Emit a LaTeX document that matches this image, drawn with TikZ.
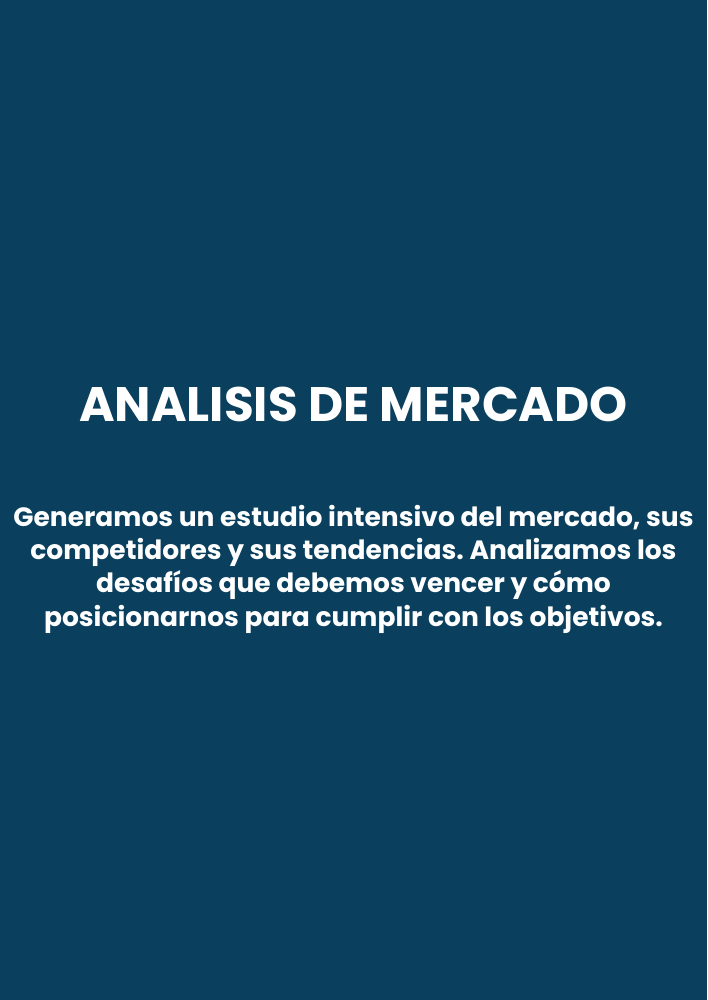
\documentclass[tikz,border=0pt]{standalone}
\usepackage{fontspec}
\setmainfont{Poppins}
\definecolor{bgblue}{HTML}{0A405E}
\tikzset{
  titletext/.style={text=white, font=\fontsize{48.4}{56}\selectfont\bfseries, inner sep=0pt, anchor=center},
  bodytext/.style={text=white, font=\fontsize{26.5}{33.3}\selectfont\bfseries\frenchspacing, align=center, inner sep=0pt, anchor=center}
}
\begin{document}
\begin{tikzpicture}[x=1pt,y=-1pt]
\fill[bgblue] (0,0) rectangle (707,1000);
\useasboundingbox (0,0) rectangle (707,1000);
\node[titletext] (title) at (353.5,404) {ANALISIS DE MERCADO};
\node[bodytext] (body) at (353.5,569) {Generamos un estudio intensivo del mercado, sus\\competidores y sus tendencias. Analizamos los\\desafíos que debemos vencer y cómo\\posicionarnos para cumplir con los objetivos.};
\end{tikzpicture}
\end{document}
